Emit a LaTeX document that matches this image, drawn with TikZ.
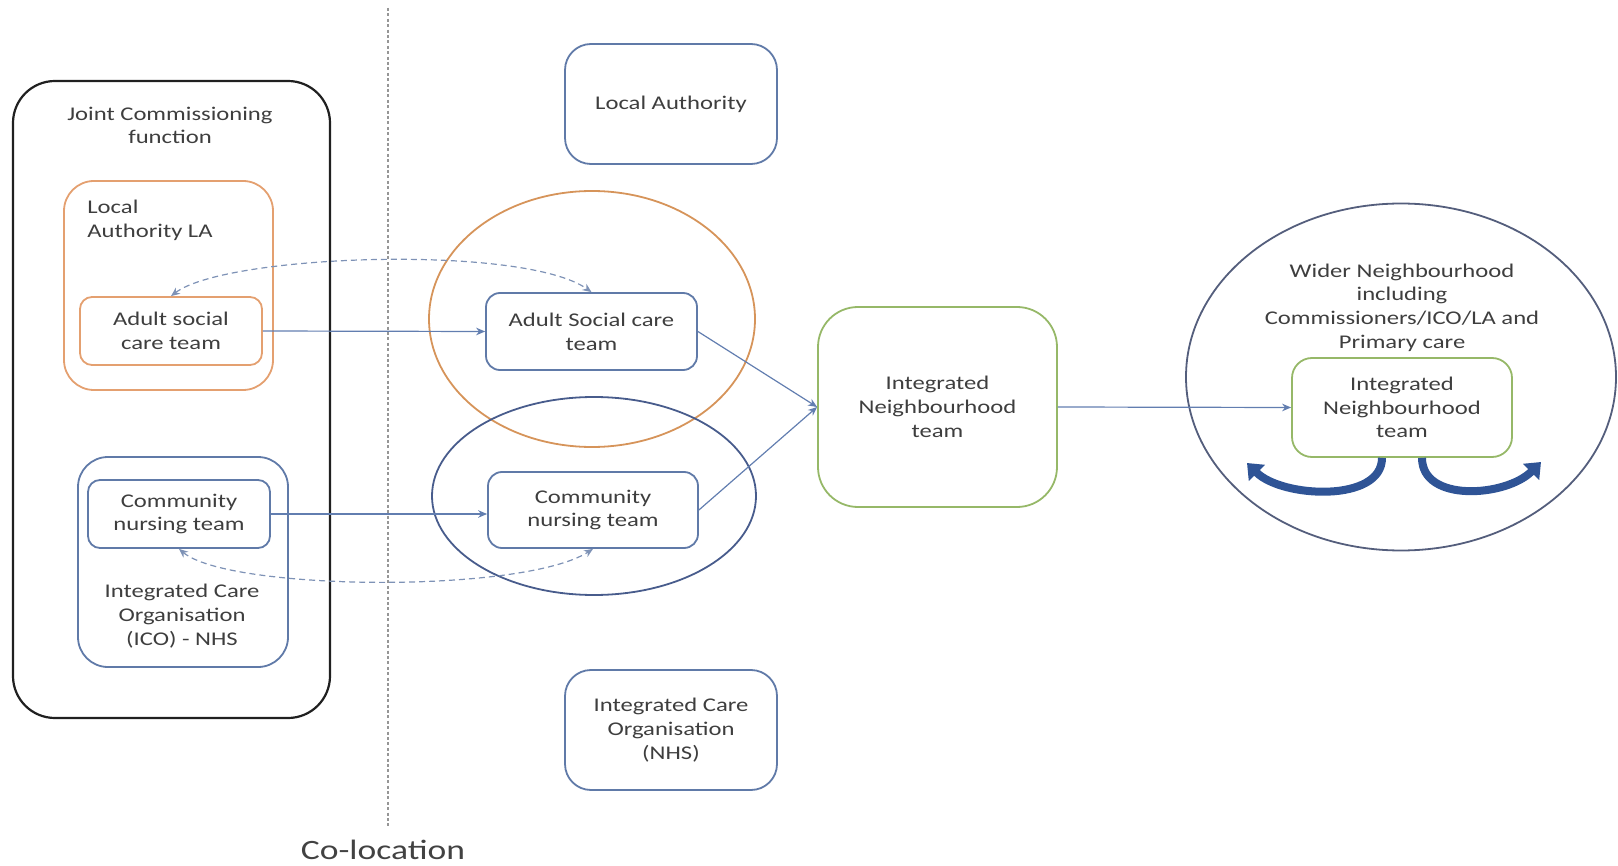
\documentclass[tikz,border=0pt]{standalone}
\usepackage{fontspec}
\setmainfont{Carlito}[FakeStretch=1.27]
\usetikzlibrary{shapes.geometric, arrows.meta, calc}

\definecolor{inkgray}{RGB}{62,62,62}
\definecolor{boxblue}{RGB}{96,122,168}
\definecolor{boxorange}{RGB}{228,160,112}
\definecolor{ringorange}{RGB}{214,148,90}
\definecolor{boxgreen}{RGB}{150,184,104}
\definecolor{boxblack}{RGB}{32,32,32}
\definecolor{ringblue}{RGB}{72,92,140}
\definecolor{ringgray}{RGB}{84,94,124}
\definecolor{linkblue}{RGB}{98,126,176}
\definecolor{dashblue}{RGB}{126,146,182}
\definecolor{turnblue}{RGB}{47,84,150}
\definecolor{divgray}{RGB}{150,150,150}

\begin{document}
\begin{tikzpicture}[x=0.5pt, y=-0.5pt,
  every node/.style={font=\fontsize{9.7pt}{11.85pt}\selectfont, text=inkgray,
                     align=center, inner sep=0pt},
  panel/.style={draw, line width=0.9pt},
  bluebox/.style={panel, draw=boxblue},
  orangebox/.style={panel, draw=boxorange},
  greenbox/.style={panel, draw=boxgreen},
  zone/.style={ellipse, draw, line width=0.9pt},
  feed/.style={draw=linkblue, line width=0.6pt, -{Stealth[length=4.5pt,width=3.8pt]}},
  twoway/.style={draw=dashblue, line width=0.6pt, dash pattern=on 3pt off 2pt,
                 {Stealth[length=4.5pt,width=3.8pt]}-{Stealth[length=4.5pt,width=3.8pt]}},
  turnarrow/.style={draw=turnblue, line width=4pt, -{Triangle[length=7pt,width=11pt]}},
  divider/.style={draw=divgray, line width=0.6pt, dash pattern=on 1.5pt off 1.2pt}]

\useasboundingbox (0,0) rectangle (1618,866);

% co-location divider
\coordinate (divtop) at (388,8);
\coordinate (divbot) at (388,826);
\draw[divider] (divtop) -- (divbot);
\node[font=\fontsize{14pt}{17pt}\selectfont, text=boxblack!85] (coloc) at (383,850) {Co-location};

% commissioning side
\node[panel, draw=boxblack, line width=1.1pt, rounded corners=21pt,
      minimum width=158.5pt, minimum height=318.5pt] (jc) at (171.5,399.5) {};
\node (jctitle) at (170,125.5) {Joint Commissioning\\function};

\node[orangebox, rounded corners=15pt, minimum width=104.5pt, minimum height=104.5pt] (la) at (168.5,285.5) {};
\node[anchor=west, align=left] (latext) at (87,220.5) {Local\\Authority LA};
\node[orangebox, rounded corners=6pt, minimum width=91pt, minimum height=34pt] (asc1) at (171,331) {Adult social\\care team};

\node[bluebox, rounded corners=15pt, minimum width=105pt, minimum height=105pt] (ico) at (183,562) {};
\node[bluebox, rounded corners=6pt, minimum width=91pt, minimum height=34pt] (cn1) at (179,514) {Community\\nursing team};
\node (icotext) at (182,616) {Integrated Care\\Organisation\\(ICO) - NHS};

% organisations and co-located teams
\node[zone, draw=ringorange, minimum width=163pt, minimum height=128pt] (ringla) at (592,319) {};
\node[zone, draw=ringblue, minimum width=162pt, minimum height=99pt] (ringico) at (594,496) {};

\node[bluebox, rounded corners=13pt, minimum width=106pt, minimum height=60pt] (lauth) at (671,104) {Local Authority};
\node[bluebox, rounded corners=13pt, minimum width=106pt, minimum height=60pt] (icon) at (671,730) {Integrated Care\\Organisation\\(NHS)};

\node[bluebox, rounded corners=7pt, minimum width=105.5pt, minimum height=38.5pt] (asc2) at (591.5,331.5) {Adult Social care\\team};
\node[bluebox, rounded corners=7pt, minimum width=105pt, minimum height=38pt] (cn2) at (593,510) {Community\\nursing team};

% integrated team
\node[greenbox, rounded corners=20pt, minimum width=119.5pt, minimum height=100pt] (int) at (937.5,407) {Integrated\\Neighbourhood\\team};

% wider neighbourhood
\node[zone, draw=ringgray, minimum width=215pt, minimum height=173.5pt] (wider) at (1401,377) {};
\node (widertext) at (1402,307.5) {Wider Neighbourhood\\including\\Commissioners/ICO/LA and\\Primary care};
\node[greenbox, rounded corners=10pt, minimum width=110pt, minimum height=49.5pt] (int2) at (1402,407.5) {Integrated\\Neighbourhood\\team};

% connectors
\draw[feed] (asc1.east) -- (asc2.west);
\draw[feed] (cn1.east) -- (cn1.east -| cn2.west);
\draw[feed] (asc2.east) -- (int.west);
\draw[feed] (cn2.east) -- (int.west);
\draw[feed] (int.east) -- (int2.west);

\draw[twoway] (asc1.north) .. controls +(55,-42) and +(-68,-48) .. (asc2.north);
\draw[twoway] (cn1.south) .. controls +(50,42) and +(-70,45) .. (cn2.south);

% outreach arrows
\coordinate (tipL) at (1247,463);
\coordinate (tipR) at (1541,462);
\draw[turnarrow] ([xshift=-10pt]int2.south) .. controls +(0,45) and +(35,35) .. (tipL);
\draw[turnarrow] ([xshift=10pt]int2.south) .. controls +(0,45) and +(-35,35) .. (tipR);

\end{tikzpicture}
\end{document}
